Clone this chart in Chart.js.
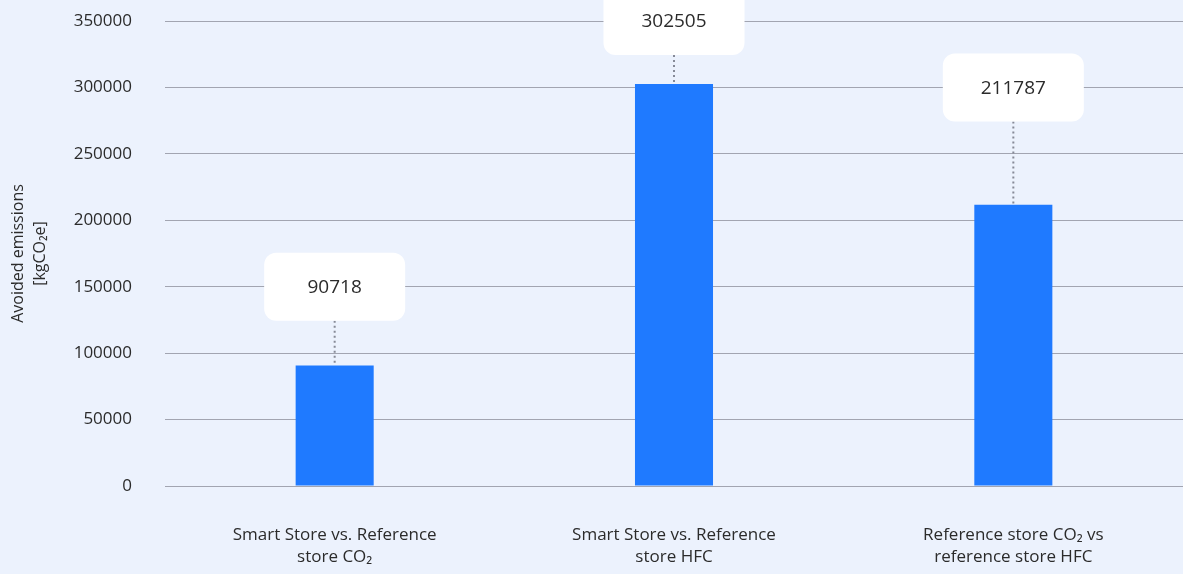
<!DOCTYPE html>
<html>
<head>
<meta charset="utf-8">
<script src="https://cdn.jsdelivr.net/npm/chart.js@4"></script>
<style>
  html, body { margin: 0; padding: 0; background: #ecf2fd; }
  #wrap { width: 1183px; height: 574px; position: relative; }
</style>
</head>
<body>
<div id="wrap"><canvas id="chart"></canvas></div>
<script>
// chart data
const categories = [
    ['Smart Store vs. Reference', 'store CO\u2082'],
    ['Smart Store vs. Reference', 'store HFC'],
    ['Reference store CO\u2082 vs', 'reference store HFC']
];
const avoidedEmissions = [90718, 302505, 211787];
// value on the axis where each callout box is centred
const calloutLevels = [150000, 350000, 300000];
const yTitle = ['Avoided emissions', '[kgCO\u2082e]'];

const FONT = '"Open Sans", "Noto Sans", sans-serif';

// white rounded boxes with a dotted leader down to the bar top
const calloutPlugin = {
    id: 'callouts',
    afterDatasetsDraw(chart) {
        const ctx = chart.ctx;
        const yScale = chart.scales.y;
        const bars = chart.getDatasetMeta(0).data;
        const boxW = 141, boxH = 68, r = 12;

        bars.forEach((bar, i) => {
            const cy = yScale.getPixelForValue(calloutLevels[i]);
            const boxBottom = cy + boxH / 2;

            ctx.save();
            ctx.strokeStyle = '#868a97';
            ctx.lineWidth = 2;
            ctx.setLineDash([2, 3]);
            ctx.beginPath();
            ctx.moveTo(bar.x, boxBottom);
            ctx.lineTo(bar.x, bar.y);
            ctx.stroke();
            ctx.setLineDash([]);

            ctx.fillStyle = '#ffffff';
            ctx.beginPath();
            ctx.roundRect(bar.x - boxW / 2, cy - boxH / 2, boxW, boxH, r);
            ctx.fill();

            ctx.fillStyle = '#2b2b2b';
            ctx.font = '19px ' + FONT;
            ctx.textAlign = 'center';
            ctx.textBaseline = 'middle';
            ctx.fillText(String(avoidedEmissions[i]), bar.x, cy + 1);
            ctx.restore();
        });
    }
};

new Chart(document.getElementById('chart'), {
    type: 'bar',
    data: {
        labels: categories,
        datasets: [{
            data: avoidedEmissions,
            backgroundColor: '#1f7aff',
            borderWidth: 0,
            barPercentage: 0.23,
            categoryPercentage: 1
        }]
    },
    options: {
        responsive: true,
        maintainAspectRatio: false,
        animation: false,
        layout: { padding: { top: 21, right: 0, left: 0, bottom: 0 } },
        plugins: {
            legend: { display: false },
            tooltip: { enabled: false }
        },
        scales: {
            x: {
                grid: { display: false, drawTicks: false },
                border: { display: false },
                ticks: {
                    color: '#2b2b2b',
                    padding: 38,
                    font: { family: FONT, size: 17, lineHeight: 1.3 }
                },
                afterFit(scale) {
                    scale.height = 88;
                    scale.paddingLeft = 0;
                    scale.paddingRight = 0;
                }
            },
            y: {
                min: 0,
                max: 350000,
                grid: { color: '#a2a5b1', lineWidth: 1, drawTicks: false },
                border: { display: false },
                ticks: {
                    stepSize: 50000,
                    color: '#2b2b2b',
                    padding: 33,
                    font: { family: FONT, size: 17 },
                    callback: v => String(v)
                },
                title: {
                    display: true,
                    text: yTitle,
                    color: '#2b2b2b',
                    font: { family: FONT, size: 16, lineHeight: 1.375 },
                    padding: { top: 7, bottom: 0 }
                },
                afterFit(scale) {
                    scale.width = 165;
                    scale.paddingTop = 0;
                    scale.paddingBottom = 0;
                }
            }
        }
    },
    plugins: [calloutPlugin]
});
</script>
</body>
</html>
